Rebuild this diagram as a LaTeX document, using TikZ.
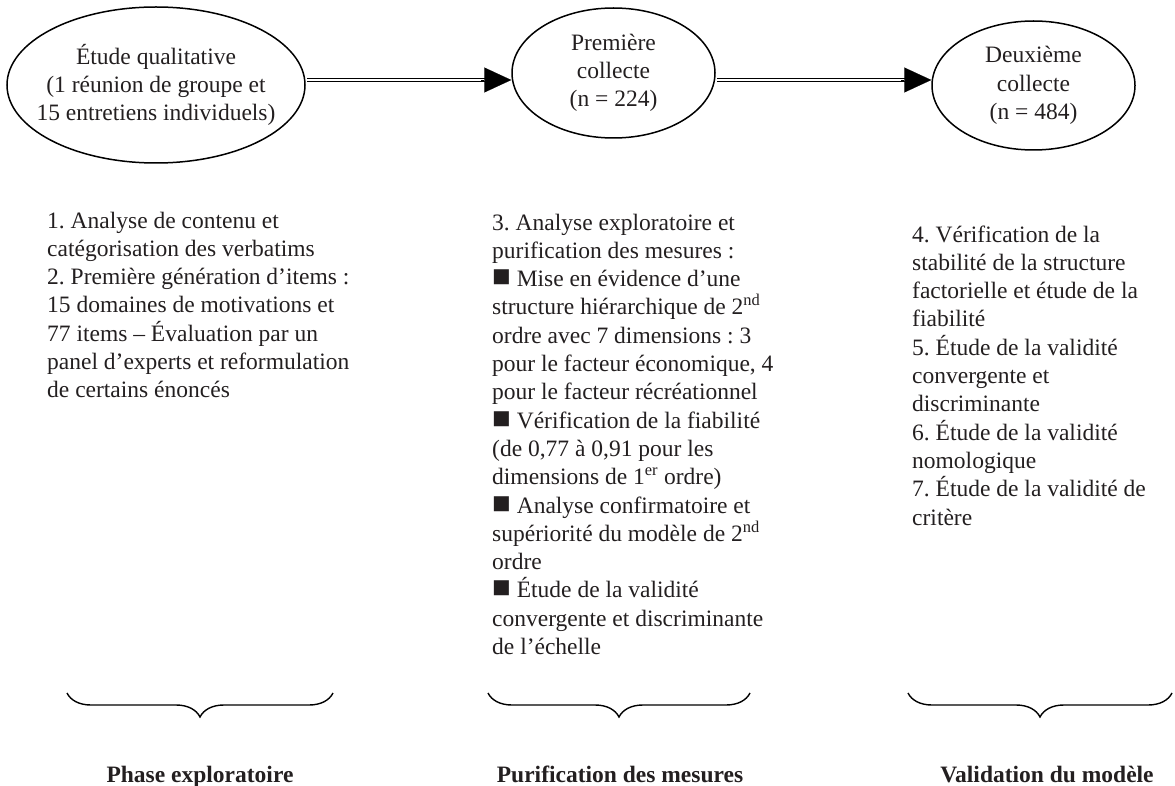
\documentclass[tikz,border=0pt]{standalone}
\usepackage{fontspec}
\setmainfont{Liberation Serif}
\usetikzlibrary{shapes.geometric,arrows.meta,decorations.pathreplacing,calc}
\definecolor{ink}{RGB}{35,31,32}
\newcommand\blsq{{\fontsize{31}{28.3}\selectfont ■}}
\frenchspacing
\begin{document}
\begin{tikzpicture}[x=1pt,y=-1pt,
  txt/.style={font=\fontsize{23.5}{28.3}\selectfont, text=ink, inner sep=0pt, align=left, anchor=base west},
  ell/.style={draw=black, line width=1.5pt, ellipse, inner sep=0pt},
  elltext/.style={font=\fontsize{23.5}{28.3}\selectfont, text=ink, align=center, inner sep=0pt},
  dbl/.style={draw=black, double=white, double distance=2.2pt, line width=1.3pt},
  tiparrow/.style={line width=0.1pt, -{Triangle[length=27pt,width=25pt]}},
  brc/.style={decorate, decoration={brace, mirror, amplitude=24pt}, line width=1.4pt},
  phase/.style={font=\fontsize{23.5}{28}\selectfont\bfseries, text=ink, inner sep=0pt, anchor=base}
]
\useasboundingbox (0,0) rectangle (1175,786);

% ellipses
\node[ell, minimum width=298pt, minimum height=156pt,
  label={[elltext]center:Étude qualitative\\(1 réunion de groupe et\\15 entretiens individuels)}] (e1) at (156,85) {};
\node[ell, minimum width=203pt, minimum height=130pt,
  label={[elltext]center:Première\\collecte\\(n = 224)}] (e2) at (613.5,73) {};
\node[ell, minimum width=203pt, minimum height=129pt,
  label={[elltext]center:Deuxième\\collecte\\(n = 484)}] (e3) at (1033.5,85.5) {};

% connectors
\draw[dbl, shorten <=1pt, shorten >=26pt] (e1.east |- 0,80) -- (e2.west |- 0,80);
\draw[tiparrow] ($(e2.west |- 0,80)+(-30,0)$) -- (e2.west |- 0,80);
\draw[dbl, shorten <=1pt, shorten >=26pt] (e2.east |- 0,80) -- (e3.west |- 0,80);
\draw[tiparrow] ($(e3.west |- 0,80)+(-30,0)$) -- (e3.west |- 0,80);

% text blocks (anchor = baseline of the last line)
\node[txt] (t1) at (47,397.8) {1. Analyse de contenu et\\catégorisation des verbatims\\2. Première génération d’items :\\15 domaines de motivations et\\77 items – Évaluation par un\\panel d’experts et reformulation\\de certains énoncés};

\node[txt] (t2) at (492,654.5) {3. Analyse exploratoire et\\purification des mesures :\\\blsq{} Mise en évidence d’une\\structure hiérarchique de 2\textsuperscript{nd}\\ordre avec 7 dimensions : 3\\pour le facteur économique, 4\\pour le facteur récréationnel\\\blsq{} Vérification de la fiabilité\\(de 0,77 à 0,91 pour les\\dimensions de 1\textsuperscript{er} ordre)\\\blsq{} Analyse confirmatoire et\\supériorité du modèle de 2\textsuperscript{nd}\\ordre\\\blsq{} Étude de la validité\\convergente et discriminante\\de l’échelle};

\node[txt] (t3) at (912,525) {4. Vérification de la\\stabilité de la structure\\factorielle et étude de la\\fiabilité\\5. Étude de la validité\\convergente et\\discriminante\\6. Étude de la validité\\nomologique\\7. Étude de la validité de\\critère};

% braces
\coordinate (b1a) at (67,693);
\coordinate (b1b) at (333,693);
\coordinate (b2a) at (488,693);
\coordinate (b2b) at (750,693);
\coordinate (b3a) at (908,693);
\coordinate (b3b) at (1172,693);
\draw[brc] (b1a) -- (b1b);
\draw[brc] (b2a) -- (b2b);
\draw[brc] (b3a) -- (b3b);

% phase labels
\node[phase] (p1) at (200,782) {Phase exploratoire};
\node[phase] (p2) at (620,782) {Purification des mesures};
\node[phase] (p3) at (1047,782) {Validation du modèle};
\end{tikzpicture}
\end{document}
